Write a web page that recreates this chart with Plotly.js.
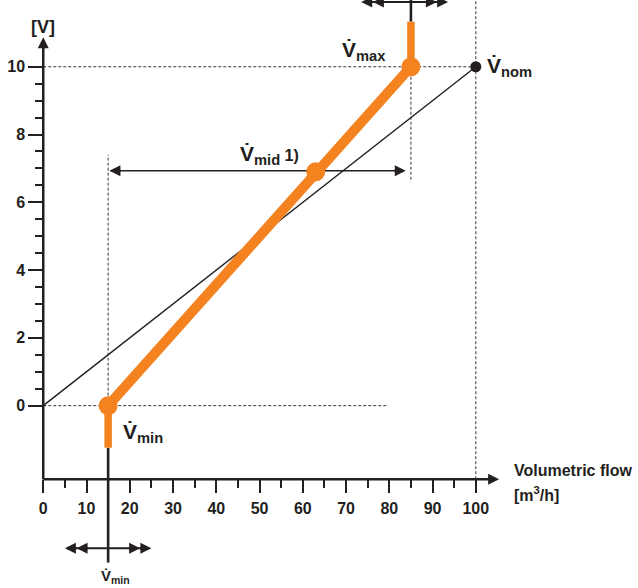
<!DOCTYPE html>
<html>
<head>
<meta charset="utf-8">
<script src="https://cdn.plot.ly/plotly-3.0.1.min.js"></script>
<style>html,body{margin:0;padding:0;background:#fff;}#chart{width:638px;height:588px;}</style>
</head>
<body>
<div id="chart"></div>
<script>
// ---------- data ----------
const flowTicks = [0, 10, 20, 30, 40, 50, 60, 70, 80, 90, 100];
const flowTickText = ['0', '10', '20', '30', '40', '50', '60', '70', '80', '90', '100'];
const flowMinorTicks = [5, 15, 25, 35, 45, 55, 65, 75, 85, 95];
const voltTicks = [0, 2, 4, 6, 8, 10];
const voltTickText = ['0', '2', '4', '6', '8', '10'];
const voltMinorTicks = [0.5, 1, 1.5, 2.5, 3, 3.5, 4.5, 5, 5.5, 6.5, 7, 7.5, 8.5, 9, 9.5];

// orange characteristic curve (V̇min, V̇mid, V̇max)
const charFlow = [15, 63, 85];
const charVolt = [0, 6.9, 10];
// orange stubs below V̇min and above V̇max
const stubFlow = [15, 85];
const stubVolt = [-1.24, 11.33];
// nominal line 0..V̇nom
const nomFlow = [0, 100];
const nomVolt = [0, 10];

// ---------- geometry constants ----------
const X_RANGE = [-10, 137.5];
const Y_RANGE = [-5.38, 11.97];
const AXIS_Y = -2.17;        // value where the flow axis crosses
const X_ARROW_TIP = 105.4;
const Y_ARROW_TIP = 10.87;
const INK = '#231f20';
const ORANGE = '#f4821f';
const FONT = 'Liberation Sans, Arial, Helvetica, sans-serif';

const traces = [];
function line(xs, ys, color, width, dash) {
  traces.push({x: xs, y: ys, mode: 'lines', type: 'scatter', hoverinfo: 'skip',
    line: {color: color, width: width, dash: dash || 'solid'}, showlegend: false});
}
// dashed guides
const DASH = '3px,2px';
line([0, nomFlow[1]], [nomVolt[1], nomVolt[1]], INK, 0.9, DASH);
line([nomFlow[1], nomFlow[1]], [AXIS_Y, Y_RANGE[1]], INK, 0.9, DASH);
line([0, 79.7], [charVolt[0], charVolt[0]], INK, 0.9, DASH);
line([charFlow[0], charFlow[0]], [charVolt[0], 7.4], INK, 0.9, DASH);
line([charFlow[2], charFlow[2]], [charVolt[2], 6.6], INK, 0.9, DASH);

// axes lines
line([0, 0], [AXIS_Y, Y_ARROW_TIP - 0.2], INK, 2.5);
line([0, X_ARROW_TIP - 2], [AXIS_Y, AXIS_Y], INK, 2.5);

// nominal line
line(nomFlow, nomVolt, INK, 1.4);

// black stems through V̇min and V̇max
line([stubFlow[0], stubFlow[0]], [stubVolt[0], -4.63], INK, 2.6);
line([stubFlow[1], stubFlow[1]], [stubVolt[1], Y_RANGE[1] + 1], INK, 2.6);

// range arrows
line([15.6, 83.3], [6.93, 6.93], INK, 1.6);
line([5.5, 24.5], [-4.21, -4.21], INK, 2);
line([74, 93], [11.91, 11.91], INK, 2);

// orange characteristic
traces.push({x: [stubFlow[0], charFlow[0]], y: [stubVolt[0], charVolt[0]], mode: 'lines', type: 'scatter',
  hoverinfo: 'skip', showlegend: false, line: {color: ORANGE, width: 7.5}});
traces.push({x: [charFlow[2], stubFlow[1]], y: [charVolt[2], stubVolt[1]], mode: 'lines', type: 'scatter',
  hoverinfo: 'skip', showlegend: false, line: {color: ORANGE, width: 7.5}});
traces.push({x: charFlow, y: charVolt, mode: 'lines+markers', type: 'scatter', hoverinfo: 'skip', showlegend: false,
  line: {color: ORANGE, width: 10}, marker: {color: ORANGE, size: 19}});
// V̇nom point
traces.push({x: [nomFlow[1]], y: [nomVolt[1]], mode: 'markers', type: 'scatter', hoverinfo: 'skip', showlegend: false,
  marker: {color: INK, size: 11}});

// ---------- annotations ----------
const ann = [];
function head(x, y, dx, dy) {
  ann.push({x: x, y: y, ax: x - dx, ay: y - dy, xref: 'x', yref: 'y', axref: 'x', ayref: 'y',
    text: '', showarrow: true, arrowhead: 2, arrowsize: 1.1, arrowwidth: 2, arrowcolor: INK, standoff: 0});
}
head(X_ARROW_TIP, AXIS_Y, 3, 0);
head(0, Y_ARROW_TIP, 0, 0.4);
head(15.3, 6.93, -3, 0);
head(83.8, 6.93, 3, 0);
head(5.0, -4.21, -3, 0); head(7.7, -4.21, -3, 0);
head(25.0, -4.21, 3, 0); head(22.4, -4.21, 3, 0);
head(73.5, 11.91, -3, 0); head(76.2, 11.91, -3, 0);
head(93.6, 11.91, 3, 0); head(91.0, 11.91, 3, 0);

function label(x, y, text, size, xanchor, yanchor) {
  ann.push({x: x, y: y, xref: 'x', yref: 'y', text: text, showarrow: false,
    xanchor: xanchor || 'left', yanchor: yanchor || 'middle', align: 'left',
    font: {family: FONT, size: size, color: INK, weight: 'bold'}});
}
const VDOT = 'V\u0307';
label(0, 11.17, '[V]', 18, 'center');
label(108.4, -1.9, 'Volumetric flow', 16);
label(108.4, -2.62, '[m<sup>3</sup>/h]', 16);
label(68.6, 10.47, VDOT + '<sub>max</sub>', 21);
label(45.0, 7.4, VDOT + '<sub>mid</sub><span style="font-size:16px"> 1)</span>', 21);
label(102.2, 9.98, VDOT + '<sub>nom</sub>', 21);
label(18.0, -0.8, VDOT + '<sub>min</sub>', 21);
label(13.0, Y_RANGE[0], VDOT + '<sub>min</sub>', 15, 'left', 'bottom');

const tickFont = {family: FONT, size: 16, color: INK, weight: 'bold'};
const layout = {
  width: 638, height: 588,
  margin: {l: 0, r: 0, t: 0, b: 0, pad: 0},
  paper_bgcolor: '#fff', plot_bgcolor: '#fff',
  showlegend: false,
  xaxis: {range: X_RANGE, domain: [0, 1], anchor: 'free', position: (AXIS_Y - Y_RANGE[0]) / (Y_RANGE[1] - Y_RANGE[0]),
    showline: false, showgrid: false, zeroline: false, fixedrange: true,
    tickmode: 'array', tickvals: flowTicks, ticktext: flowTickText, ticks: 'outside', ticklen: 13, tickwidth: 2, tickcolor: INK,
    tickfont: tickFont, ticklabelstandoff: 2,
    minor: {tickmode: 'array', tickvals: flowMinorTicks, ticks: 'outside', ticklen: 8, tickwidth: 2, tickcolor: INK, showgrid: false}},
  yaxis: {range: Y_RANGE, domain: [0, 1], anchor: 'free', position: (0 - X_RANGE[0]) / (X_RANGE[1] - X_RANGE[0]),
    showline: false, showgrid: false, zeroline: false, fixedrange: true,
    tickmode: 'array', tickvals: voltTicks, ticktext: voltTickText, ticks: 'outside', ticklen: 15, tickwidth: 2, tickcolor: INK,
    tickfont: tickFont,
    minor: {tickmode: 'array', tickvals: voltMinorTicks, ticks: 'outside', ticklen: 8, tickwidth: 2, tickcolor: INK, showgrid: false}},
  annotations: ann
};
Plotly.newPlot('chart', traces, layout, {displayModeBar: false, staticPlot: true});
</script>
</body>
</html>
